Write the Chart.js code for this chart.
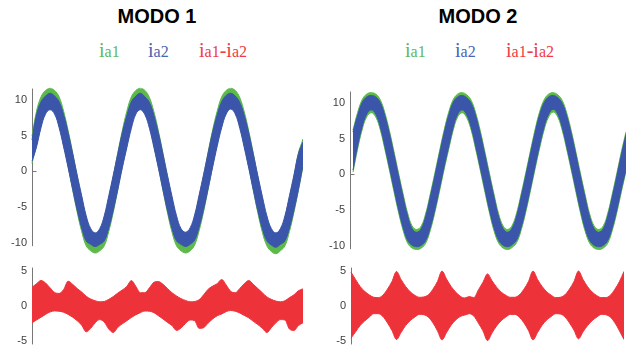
<!DOCTYPE html>
<html>
<head>
<meta charset="utf-8">
<script src="https://cdn.jsdelivr.net/npm/chart.js@4.4.1/dist/chart.umd.min.js"></script>
<style>
  html, body { margin: 0; padding: 0; background: #fff; }
  body { width: 638px; height: 354px; position: relative; overflow: hidden; }
  canvas { position: absolute; }
  .titulo { position: absolute; top: 6px; width: 200px; text-align: center; color: #000;
            font: bold 20px "Liberation Sans", Arial, sans-serif; line-height: 20px; }
  .leg { position: absolute; top: 40px; white-space: nowrap;
         font-family: "Liberation Serif", "Times New Roman", serif; font-size: 20px; line-height: 20px; }
  .leg small { font-size: 16px; }
</style>
</head>
<body>
<div class="titulo" style="left:57px">MODO 1</div>
<div class="titulo" style="left:378px">MODO 2</div>

<div class="leg" style="left:99px;color:#62b85a">i<small>a1</small></div>
<div class="leg" style="left:148px;color:#4a64b4">i<small>a2</small></div>
<div class="leg" style="left:199px;color:#ef3b47">i<small>a1</small>-i<small>a2</small></div>
<div class="leg" style="left:405px;color:#62b85a">i<small>a1</small></div>
<div class="leg" style="left:455px;color:#4a64b4">i<small>a2</small></div>
<div class="leg" style="left:506px;color:#ef3b47">i<small>a1</small>-i<small>a2</small></div>

<canvas id="sup1" width="303" height="189" style="left:0;top:77px"></canvas>
<canvas id="sup2" width="308" height="189" style="left:318px;top:80px"></canvas>
<canvas id="inf1" width="303" height="100" style="left:0;top:256px"></canvas>
<canvas id="inf2" width="305" height="100" style="left:319px;top:256px"></canvas>

<script>
// eixo do tempo (ms) - 3 ciclos de 50 Hz
const tiempoMs = [0,1,2,3,4,5,6,7,8,9,10,11,12,13,14,15,16,17,18,19,20,21,22,23,24,25,26,27,28,29,
  30,31,32,33,34,35,36,37,38,39,40,41,42,43,44,45,46,47,48,49,50,51,52,53,54,55,56,57,58,59,60];

const ticksCorriente = [-10, -5, 0, 5, 10];
const ticksDiferencia = [-5, 0, 5];

// MODO 1 - envolventes superior / inferior
const ia1Sup1 = [4.9,8.4,10.4,11.3,11.6,11.3,10.4,8.4,5.7,2.6, -0.7,-3.7,-6.5,-8.4,-9.0,-8.4,-6.5,-3.7,-0.7,2.6,
  5.7,8.4,10.4,11.3,11.6,11.3,10.3,8.3,5.6,2.5, -0.8,-3.8,-6.5,-8.4,-9.0,-8.4,-6.4,-3.6,-0.6,2.7,
  5.8,8.4,10.4,11.3,11.6,11.3,10.3,8.3,5.6,2.5, -0.8,-3.8,-6.5,-8.4,-9.0,-8.4,-6.5,-3.7,-0.7,2.6, 4.5];
const ia1Inf1 = [1.1,3.7,6.5,8.4,9.0,8.4,6.5,3.7,0.7,-2.6, -5.7,-8.4,-10.4,-11.1,-11.4,-11.1,-10.4,-8.4,-5.7,-2.6,
  0.7,3.6,6.4,8.4,9.0,8.3,6.4,3.6,0.6,-2.7, -5.8,-8.5,-10.4,-11.1,-11.4,-11.1,-10.3,-8.3,-5.6,-2.5,
  0.8,3.8,6.5,8.4,9.1,8.4,6.4,3.6,0.6,-2.7, -5.8,-8.5,-10.4,-11.2,-11.5,-11.1,-10.4,-8.4,-5.7,-2.6, 0.6];
const ia2Sup1 = [4.4,7.9,9.7,10.5,10.9,10.5,9.7,7.9,5.4,2.5, -0.5,-3.4,-6.2,-8.0,-8.6,-8.0,-6.2,-3.4,-0.5,2.5,
  5.4,7.8,9.7,10.5,10.9,10.4,9.6,7.8,5.3,2.4, -0.6,-3.5,-6.2,-8.0,-8.5,-7.9,-6.1,-3.3,-0.4,2.6,
  5.5,7.9,9.7,10.6,10.9,10.5,9.6,7.8,5.3,2.4, -0.6,-3.5,-6.2,-8.0,-8.6,-8.0,-6.2,-3.4,-0.5,2.5, 4.1];
const ia2Inf1 = [1.4,3.4,6.1,8.0,8.6,8.0,6.1,3.4,0.5,-2.5, -5.4,-7.9,-9.7,-10.2,-10.5,-10.2,-9.7,-7.9,-5.4,-2.5,
  0.5,3.3,6.0,8.0,8.6,7.9,6.0,3.3,0.4,-2.6, -5.5,-8.0,-9.7,-10.2,-10.5,-10.2,-9.6,-7.8,-5.3,-2.4,
  0.6,3.5,6.1,8.0,8.7,8.0,6.0,3.3,0.4,-2.6, -5.5,-8.0,-9.7,-10.3,-10.6,-10.2,-9.7,-7.9,-5.4,-2.5, 0.9];
const difSup1 = [2.67,3.2,3.65,3.3,2.6,1.95,1.8,2.35,3.55,3.1, 2.5,2.0,1.4,1.0,0.75,0.6,0.65,0.95,1.35,1.85,
  2.3,2.8,3.65,2.8,1.9,1.9,2.6,3.4,3.5,3.1, 2.5,1.9,1.45,1.05,0.8,0.6,0.65,0.9,1.6,2.4,
  2.85,3.2,3.8,3.0,2.1,1.9,2.5,3.2,3.65,3.1, 2.5,1.9,1.3,0.95,0.7,0.6,0.75,1.2,1.6,2.2, 2.45];
const difInf1 = [-2.4,-2.0,-1.6,-1.2,-0.85,-0.7,-0.75,-0.9,-1.2,-1.6, -2.1,-2.75,-3.7,-3.2,-2.4,-1.95,-2.3,-3.3,-3.8,-3.05,
  -2.55,-2.1,-1.65,-1.25,-0.95,-0.72,-0.75,-0.95,-1.4,-1.85, -2.35,-2.8,-3.5,-3.15,-2.5,-2.0,-2.1,-3.2,-3.1,-2.45,
  -1.85,-1.4,-1.15,-0.8,-0.65,-0.75,-1.0,-1.35,-1.7,-2.2, -2.65,-3.2,-3.8,-3.1,-2.4,-1.95,-2.0,-3.3,-3.5,-2.8, -2.4];

// MODO 2
const ia1Sup2 = [6.2,8.6,10.4,11.2,11.4,11.2,10.4,8.6,6.1,3.2, 0.2,-2.7,-5.4,-7.2,-7.7,-7.2,-5.4,-2.7,0.2,3.2,
  6.1,8.6,10.4,11.2,11.4,11.1,10.3,8.5,6.0,3.1, 0.1,-2.8,-5.5,-7.2,-7.7,-7.1,-5.3,-2.6,0.3,3.3,
  6.2,8.7,10.4,11.2,11.4,11.1,10.3,8.5,6.0,3.1, 0.1,-2.8,-5.5,-7.2,-7.7,-7.2,-5.4,-2.7,0.2,3.2, 5.9];
const ia1Inf2 = [0.3,3.5,6.2,8.0,8.6,8.0,6.2,3.5,0.6,-2.4, -5.3,-7.8,-9.6,-10.3,-10.5,-10.3,-9.6,-7.8,-5.3,-2.4,
  0.6,3.4,6.1,8.0,8.6,7.9,6.1,3.4,0.5,-2.5, -5.4,-7.9,-9.6,-10.3,-10.5,-10.2,-9.5,-7.7,-5.2,-2.3,
  0.7,3.6,6.2,8.0,8.7,8.0,6.1,3.4,0.5,-2.5, -5.4,-7.9,-9.6,-10.3,-10.5,-10.3,-9.6,-7.8,-5.3,-2.4, 0.4];
const ia2Sup2 = [5.9,8.2,10.0,10.8,11.0,10.8,10.0,8.2,5.7,2.8, -0.2,-3.1,-5.8,-7.6,-8.1,-7.6,-5.8,-3.1,-0.2,2.8,
  5.7,8.2,10.0,10.8,11.0,10.7,9.9,8.1,5.6,2.7, -0.3,-3.2,-5.9,-7.6,-8.1,-7.5,-5.7,-3.0,-0.1,2.9,
  5.8,8.3,10.0,10.8,11.0,10.7,9.9,8.1,5.6,2.7, -0.3,-3.2,-5.9,-7.6,-8.1,-7.6,-5.8,-3.1,-0.2,2.8, 5.6];
const ia2Inf2 = [0.6,3.9,6.6,8.4,9.0,8.4,6.6,3.9,1.0,-2.0, -4.9,-7.4,-9.2,-9.9,-10.1,-9.9,-9.2,-7.4,-4.9,-2.0,
  1.0,3.8,6.5,8.4,9.0,8.3,6.5,3.8,0.9,-2.1, -5.0,-7.5,-9.2,-9.9,-10.1,-9.8,-9.1,-7.3,-4.8,-1.9,
  1.1,4.0,6.6,8.4,9.1,8.4,6.5,3.8,0.9,-2.1, -5.0,-7.5,-9.2,-9.9,-10.1,-9.9,-9.2,-7.4,-4.9,-2.0, 0.7];
const difSup2 = [4.85,3.8,2.8,2.1,1.6,1.25,1.2,1.55,2.4,3.5, 4.95,3.8,2.8,2.05,1.55,1.25,1.3,1.6,2.4,3.5,
  5.0,3.85,2.8,2.0,1.4,1.15,1.35,1.2,2.3,3.4, 4.6,3.6,2.7,2.0,1.55,1.25,1.25,1.6,2.4,3.5,
  5.0,3.8,2.8,2.05,1.55,1.2,1.25,1.6,2.4,3.5, 5.0,3.8,2.75,2.0,1.5,1.2,1.2,1.55,2.4,3.5, 4.95];
const difInf2 = [-4.6,-3.7,-2.8,-2.15,-1.6,-1.1,-1.1,-1.5,-2.4,-3.5, -4.8,-3.8,-2.8,-2.1,-1.6,-1.2,-1.25,-1.6,-2.4,-3.55,
  -4.85,-3.8,-2.75,-2.0,-1.5,-1.3,-1.1,-1.45,-2.45,-3.55, -4.95,-3.85,-2.85,-2.1,-1.6,-1.2,-1.2,-1.6,-2.4,-3.5,
  -4.85,-3.8,-2.75,-2.0,-1.5,-1.1,-1.15,-1.55,-2.4,-3.45, -4.7,-3.7,-2.8,-2.1,-1.6,-1.2,-1.25,-1.6,-2.4,-3.55, -4.8];

const verde = '#5cb94a';
const azul = '#3a55aa';
const vermelho = '#ee323a';

// linha do eixo Y (e marca no zero), como no MATLAB
const ejePlugin = {
  id: 'eje',
  beforeDatasetsDraw(chart, args, opts) {
    const y = chart.scales.y;
    const ctx = chart.ctx;
    const x0 = chart.chartArea.left + 0.5;
    ctx.save();
    ctx.strokeStyle = '#777';
    ctx.lineWidth = 1;
    ctx.beginPath();
    ctx.moveTo(x0, y.getPixelForValue(opts.desde));
    ctx.lineTo(x0, y.getPixelForValue(opts.hasta));
    if (opts.marcaCero) {
      const yz = Math.round(y.getPixelForValue(0)) + 0.5;
      ctx.moveTo(x0, yz);
      ctx.lineTo(x0 + 4, yz);
    }
    ctx.stroke();
    ctx.restore();
  }
};

function banda(sup, inf, cor) {
  return [
    { data: sup.map((v, i) => ({ x: tiempoMs[i], y: v })), borderColor: cor, backgroundColor: cor, fill: '+1', clip: false },
    { data: inf.map((v, i) => ({ x: tiempoMs[i], y: v })), borderColor: cor, backgroundColor: cor, fill: false, clip: false }
  ];
}

function criarGrafico(id, datasets, xMin, yMin, yMax, yTicks, eje, suave) {
  return new Chart(document.getElementById(id), {
    type: 'line',
    data: { datasets: datasets },
    options: {
      responsive: false,
      animation: false,
      devicePixelRatio: 1,
      layout: { padding: { top: 10, bottom: 10, left: 0, right: 0 } },
      elements: {
        point: { radius: 0 },
        line: suave ? { tension: 0.4, borderWidth: 1 } : { cubicInterpolationMode: 'monotone', borderWidth: 1 }
      },
      plugins: { legend: { display: false }, tooltip: { enabled: false }, eje: eje },
      scales: {
        x: { type: 'linear', min: xMin, max: 60, display: false },
        y: {
          min: yMin, max: yMax,
          grid: { display: false, drawTicks: false },
          border: { display: false },
          afterBuildTicks: s => { s.ticks = yTicks.map(v => ({ value: v })); },
          afterFit: s => { s.width = 32; },
          ticks: { padding: 5, color: '#404040', font: { family: 'Liberation Sans, Arial, sans-serif', size: 11 } }
        }
      }
    },
    plugins: [ejePlugin]
  });
}

// azul desenhado por cima do verde (índices menores ficam na frente)
criarGrafico('sup1', [...banda(ia2Sup1, ia2Inf1, azul), ...banda(ia1Sup1, ia1Inf1, verde)],
  0, -11.6, 11.55, ticksCorriente, { desde: -10.45, hasta: 11.55, marcaCero: true }, true);
criarGrafico('sup2', [...banda(ia2Sup2, ia2Inf2, azul), ...banda(ia1Sup2, ia1Inf2, verde)],
  -0.66, -11.6, 11.55, ticksCorriente, { desde: -10.45, hasta: 11.55, marcaCero: true }, true);
criarGrafico('inf1', banda(difSup1, difInf1, vermelho),
  0, -5.5, 5.5, ticksDiferencia, { desde: -5.5, hasta: 5.5, marcaCero: false }, false);
criarGrafico('inf2', banda(difSup2, difInf2, vermelho),
  0, -5.5, 5.5, ticksDiferencia, { desde: -5.5, hasta: 5.5, marcaCero: false }, false);
</script>
</body>
</html>
